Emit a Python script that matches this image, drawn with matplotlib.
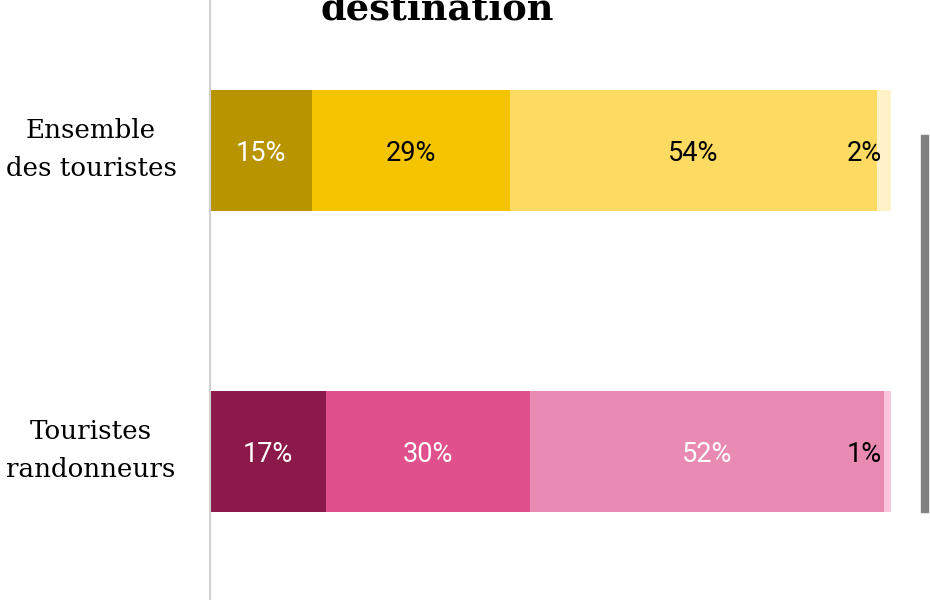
import matplotlib.pyplot as plt
from matplotlib.patches import Rectangle

groups = ["Ensemble\ndes touristes", "Touristes\nrandonneurs"]
shares = [
    [15, 29, 54, 2],
    [17, 30, 52, 1],
]
colors = [
    ["#B89400", "#F5C400", "#FDDB62", "#FFF2C8"],
    ["#8B1A4A", "#E0508C", "#E98AB2", "#F7C6DC"],
]
text_colors = [
    ["white", "black", "black", "black"],
    ["white", "white", "white", "black"],
]

fig = plt.figure(figsize=(9.3, 6), dpi=100)
ax = fig.add_axes([210 / 930, 0, 681 / 930, 1])

for i, row in enumerate(shares):
    left = 0
    for j, v in enumerate(row):
        ax.barh(i, v, left=left, height=0.402, color=colors[i][j], linewidth=0)
        if v < 5:
            ax.text(left + v - 1.3, i + 0.01, f"{v}%", ha="right", va="center",
                    fontsize=19.5, family="Roboto", color=text_colors[i][j])
        else:
            ax.text(left + v / 2, i + 0.01, f"{v}%", ha="center", va="center",
                    fontsize=19.5, family="Roboto", color=text_colors[i][j])
        left += v

ax.set_xlim(0, 100)
ax.set_ylim(1.493, -0.5)
ax.set_yticks([])
ax.set_xticks([])
# group labels, centred in the left margin
trans = ax.get_yaxis_transform()
for i, g in enumerate(groups):
    ax.text(-119 / 681, i - 0.003, g, transform=trans, ha="center", va="center",
            fontsize=18.8, family="DejaVu Serif", linespacing=1.66, clip_on=False)
for s in ["top", "right", "bottom"]:
    ax.spines[s].set_visible(False)
ax.spines["left"].set_color("#d0d0d0")
ax.spines["left"].set_linewidth(1.5)

fig.text(437 / 930, 1 - 20 / 600, "destination", ha="center", va="baseline",
         fontsize=26.5, fontweight="bold", family="DejaVu Serif")

# scrollbar strip seen on the right of the screenshot
fig.patches.append(Rectangle((921 / 930, 88 / 600), 7 / 930, 377 / 600,
                             transform=fig.transFigure, color="#808080"))

fig.savefig("out.png", dpi=100)
